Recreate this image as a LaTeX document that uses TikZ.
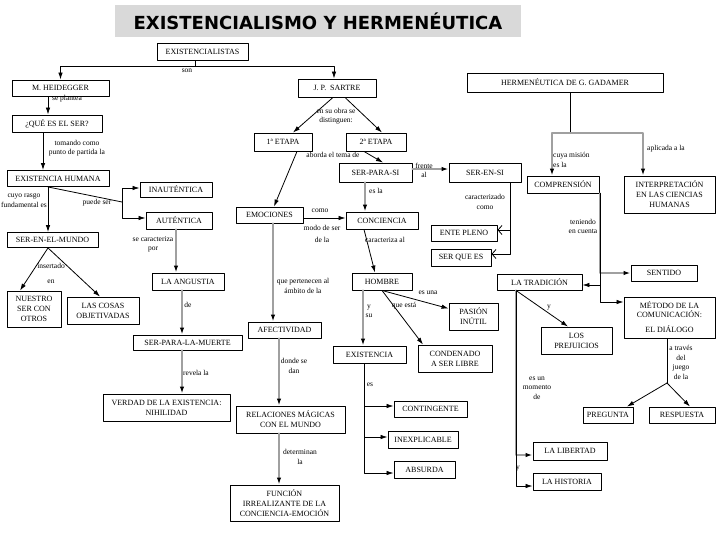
\documentclass[tikz,border=0pt]{standalone}
\usepackage{fontspec}
\setmainfont{Liberation Serif}
\newfontfamily\titulofont{DejaVu Sans}
\usetikzlibrary{arrows.meta}

\definecolor{titulogris}{RGB}{217,217,217}
\definecolor{lineagris}{RGB}{160,160,160}

\tikzset{
  caja/.style={draw, line width=0.9pt, align=center, inner sep=1pt,
    font=\fontsize{8}{10}\selectfont},
  tam/.style 2 args={minimum width=#1pt, minimum height=#2pt},
  rotulo/.style={align=center, inner sep=0pt, font=\fontsize{7.5}{9.5}\selectfont},
  flecha/.style={line width=0.8pt, -{Latex[length=7pt,width=4.5pt]}},
  gflecha/.style={lineagris, line width=2pt, -{Latex[length=7pt,width=4.5pt,color=black]}},
  abierta/.style={line width=0.8pt, -{Straight Barb[length=4pt,width=9pt]}},
}

\begin{document}
\begin{tikzpicture}[x=1pt,y=-1pt,line cap=round,line join=round]
    \useasboundingbox (0,0) rectangle (728,546);

    % Titulo
    \node[fill=titulogris, tam={406}{32}, inner sep=0pt,
      font=\titulofont\bfseries\fontsize{18}{20}\selectfont] (titulo) at (318,21)
      {EXISTENCIALISMO Y HERMENÉUTICA};

    % Cajas
    \node[caja,tam={91}{17}] (exist) at (202.5,51.5) {EXISTENCIALISTAS};
    \node[caja,tam={97}{16}] (heid) at (60.5,88) {M. HEIDEGGER};
    \node[caja,tam={90}{17}] (quees) at (57,123.5) {¿QUÉ ES EL SER?};
    \node[caja,tam={102}{16}] (exhum) at (58,178.5) {EXISTENCIA HUMANA};
    \node[caja,tam={91}{15}] (mundo) at (52.5,240) {SER-EN-EL-MUNDO};
    \node[caja,tam={72}{15}] (inaut) at (176,189.5) {INAUTÉNTICA};
    \node[caja,tam={66}{17}] (aut) at (179,220.5) {AUTÉNTICA};
    \node[caja,tam={54}{36}] (nuestro) at (34,309) {NUESTRO\\SER CON\\OTROS};
    \node[caja,tam={72}{27}] (cosas) at (103,310.5) {LAS COSAS\\OBJETIVADAS};
    \node[caja,tam={72}{17}] (angustia) at (188,281.5) {LA ANGUSTIA};
    \node[caja,tam={109}{15}] (muerte) at (187.5,342.5) {SER-PARA-LA-MUERTE};
    \node[caja,tam={127}{27}] (verdad) at (166.5,407.5) {VERDAD DE LA EXISTENCIA:\\NIHILIDAD};

    \node[caja,tam={78}{18}] (sartre) at (337,88) {J. P.~~SARTRE};
    \node[caja,tam={58}{18}] (etapa1) at (283,142) {1ª ETAPA};
    \node[caja,tam={60}{18}] (etapa2) at (376,142) {2ª ETAPA};
    \node[caja,tam={67}{16}] (emoc) at (269.5,215) {EMOCIONES};
    \node[caja,tam={73}{19}] (parasi) at (375.5,172.5) {SER-PARA-SI};
    \node[caja,tam={72}{19}] (ensi) at (485,172.5) {SER-EN-SI};
    \node[caja,tam={72}{17}] (conc) at (382,220.5) {CONCIENCIA};
    \node[caja,tam={66}{16}] (ente) at (464,233) {ENTE PLENO};
    \node[caja,tam={60}{17}] (serque) at (461,257.5) {SER QUE ES};
    \node[caja,tam={73}{16}] (afect) at (284.5,330) {AFECTIVIDAD};
    \node[caja,tam={60}{17}] (hombre) at (382,281.5) {HOMBRE};
    \node[caja,tam={49}{27}] (pasion) at (473.5,316.5) {PASIÓN\\INÚTIL};
    \node[caja,tam={74}{27}] (conden) at (455,358.5) {CONDENADO\\A SER LIBRE};
    \node[caja,tam={73}{17}] (existencia) at (369.5,354.5) {EXISTENCIA};
    \node[caja,tam={73}{16}] (conting) at (430.5,409) {CONTINGENTE};
    \node[caja,tam={70}{17}] (inexpl) at (423,439.5) {INEXPLICABLE};
    \node[caja,tam={61}{17}] (absurda) at (424.5,469.5) {ABSURDA};
    \node[caja,tam={109}{27}] (relac) at (290.5,419.5) {RELACIONES MÁGICAS\\CON EL MUNDO};
    \node[caja,tam={109}{36}] (funcion) at (284.5,503)
      {FUNCIÓN\\IRREALIZANTE DE LA\\CONCIENCIA-EMOCIÓN};

    \node[caja,tam={196}{19}] (gadamer) at (565,82.5) {HERMENÉUTICA DE G. GADAMER};
    \node[caja,tam={72}{17}] (compr) at (563,184.5) {COMPRENSIÓN};
    \node[caja,tam={91}{37}] (interp) at (669.5,194.5)
      {INTERPRETACIÓN\\EN LAS CIENCIAS\\HUMANAS};
    \node[caja,tam={66}{16}] (sentido) at (664,273) {SENTIDO};
    \node[caja,tam={85}{16}] (tradic) at (539.5,282) {LA TRADICIÓN};
    \node[caja,tam={91}{41},font=\fontsize{8}{9}\selectfont] (metodo) at (669.5,317.5)
      {MÉTODO DE LA\\COMUNICACIÓN:\\[6pt]EL DIÁLOGO};
    \node[caja,tam={71}{27}] (prejuic) at (576.5,340.5) {LOS\\PREJUICIOS};
    \node[caja,tam={50}{16}] (pregunta) at (608,415) {PREGUNTA};
    \node[caja,tam={66}{16}] (respuesta) at (682,415) {RESPUESTA};
    \node[caja,tam={74}{18}] (libertad) at (570,451) {LA LIBERTAD};
    \node[caja,tam={68}{17}] (historia) at (567,481.5) {LA HISTORIA};

    % Puntos de ramificacion
    \coordinate (son) at (195,66);
    \coordinate (puede) at (122,202);
    \coordinate (gadram) at (570,133);
    \coordinate (juego) at (667,383);

    % Conectores: Heidegger
    \draw[line width=0.8pt] ([xshift=-7.5pt]exist.south) -- (son);
    \draw[flecha] (son) -| (heid.north);
    \draw[flecha] (son) -| ([xshift=-3pt]sartre.north);
    \draw[flecha] ([xshift=-12.5pt]heid.south) -- ([xshift=-9pt]quees.north);
    \draw[flecha] ([xshift=-14pt]quees.south) -- ([xshift=-15pt]exhum.north);
    \draw[flecha] ([xshift=-10pt]exhum.south) -- ([xshift=-4.5pt]mundo.north);
    \draw[line width=0.8pt] ([xshift=-10pt]exhum.south) -- (puede);
    \draw[flecha] (puede) |- ([yshift=1.5pt]inaut.west);
    \draw[flecha] (puede) |- ([yshift=2.5pt]aut.west);
    \draw[flecha] ([xshift=-4.5pt]mundo.south) -- ([xshift=-14pt]nuestro.north);
    \draw[flecha] ([xshift=-4.5pt]mundo.south) -- ([xshift=-3pt]cosas.north);
    \draw[gflecha] ([xshift=-3pt]aut.south) -- ([xshift=-12pt]angustia.north);
    \draw[gflecha] ([xshift=-6pt]angustia.south) -- ([xshift=-5.5pt]muerte.north);
    \draw[gflecha] ([xshift=-5.5pt]muerte.south) -- ([xshift=15.5pt]verdad.north);

    % Conectores: Sartre
    \draw[flecha] ([xshift=-4pt]sartre.south) -- ([xshift=10pt]etapa1.north);
    \draw[flecha] ([xshift=8pt]sartre.south) -- ([xshift=6pt]etapa2.north);
    \draw[flecha] ([xshift=14pt]etapa1.south) -- ([xshift=4.5pt]emoc.north);
    \draw[flecha] ([xshift=-12pt]etapa2.south) -- ([xshift=7.5pt]parasi.north);
    \draw[gflecha] ([yshift=3.5pt]parasi.east) -- ([yshift=3.5pt]ensi.west);
    \draw[abierta] ([xshift=25pt]ensi.south) |- ([yshift=3pt]ente.east);
    \draw[abierta] ([xshift=25pt]ensi.south) |- ([yshift=3.5pt]serque.east);
    \draw[gflecha] ([xshift=-10.5pt]parasi.south) -- ([xshift=-17pt]conc.north);
    \draw[flecha] ([yshift=-3pt]emoc.east) -- ([yshift=2.5pt]conc.west);
    \draw[flecha] ([xshift=-18pt]conc.south) -- ([xshift=-7pt]hombre.north);
    \draw[gflecha] ([xshift=3.5pt]emoc.south) -- ([xshift=-11.5pt]afect.north);
    \draw[flecha] (hombre.south) -- ([yshift=8pt]pasion.west);
    \draw[flecha] (hombre.south) -- ([xshift=-32pt]conden.north);
    \draw[gflecha] ([xshift=-19pt]hombre.south) -- ([xshift=-6.5pt]existencia.north);
    \draw[flecha] ([xshift=-5.5pt]existencia.south) |- ([yshift=3pt]conting.west);
    \draw[flecha] ([xshift=-5.5pt]existencia.south) |- ([yshift=2.5pt]inexpl.west);
    \draw[flecha] ([xshift=-5.5pt]existencia.south) |- ([yshift=-3.5pt]absurda.west);
    \draw[gflecha] ([xshift=-5.5pt]afect.south) -- ([xshift=-11.5pt]relac.north);
    \draw[gflecha] ([xshift=-11.5pt]relac.south) -- ([xshift=-5.5pt]funcion.north);

    % Conectores: Gadamer
    \draw[line width=0.8pt] ([xshift=5pt]gadamer.south) -- (gadram);
    \draw[gflecha] (gadram) -| ([xshift=-11pt]compr.north);
    \draw[gflecha] (gadram) -| ([xshift=-26.5pt]interp.north);
    \draw[gflecha] ([xshift=37pt]compr.south) |- (sentido.west);
    \draw[flecha] ([xshift=37pt]compr.south) |- ([yshift=15.5pt]metodo.west);
    \draw[flecha] ([xshift=37pt]compr.south) |- ([yshift=-3pt]tradic.east);
    \draw[line width=0.8pt] ([xshift=-2.5pt]metodo.south) -- (juego);
    \draw[flecha] (juego) -- ([xshift=19pt]pregunta.north);
    \draw[flecha] (juego) -- ([xshift=8pt]respuesta.north);
    \draw[flecha] ([xshift=-23.5pt]tradic.south) -- ([xshift=-8.5pt]prejuic.north);
    \draw[gflecha] ([xshift=-23.5pt]tradic.south) |- ([yshift=-4pt]libertad.west);
    \draw[flecha] ([xshift=-23.5pt]tradic.south) |- ([yshift=-4.5pt]historia.west);

    % Rotulos
    \node[rotulo] (rson) at (187,71) {son};
    \node[rotulo] (rplantea) at (67,99) {se plantea};
    \node[rotulo] (rtomando) at (77,148) {tomando como\\punto de partida la};
    \node[rotulo] (rrasgo) at (24,200.5) {cuyo rasgo\\fundamental es};
    \node[rotulo] (rpuede) at (97,203) {puede ser};
    \node[rotulo] (rinsert) at (51,273.5) {insertado\\[5.5pt]en};
    \node[rotulo] (rcaract) at (153,244.5) {se caracteriza\\por};
    \node[rotulo] (rde) at (188,305) {de};
    \node[rotulo] (rrevela) at (196,373) {revela la};
    \node[rotulo] (robra) at (336,116) {en su obra se\\distinguen:};
    \node[rotulo] (raborda) at (333,155) {aborda el tema de};
    \node[rotulo] (rfrente) at (424,170.5) {frente\\al};
    \node[rotulo] (resla) at (376,191) {es la};
    \node[rotulo] (rcaractz) at (485,202) {caracterizado\\como};
    \node[rotulo] (rcomo) at (320,211) {como};
    \node[rotulo] (rmodo) at (322,234) {modo de ser\\[3pt]de la};
    \node[rotulo] (rcaral) at (385,240) {caracteriza al};
    \node[rotulo] (rpertenecen) at (303,286) {que pertenecen al\\ámbito de la};
    \node[rotulo] (resuna) at (428,293) {es una};
    \node[rotulo] (resta) at (404,306) {que está};
    \node[rotulo] (rysu) at (369,311.5) {y\\su};
    \node[rotulo] (res) at (370,385) {es};
    \node[rotulo] (rdonde) at (294,366) {donde se\\dan};
    \node[rotulo] (rdetermin) at (300,457) {determinan\\la};
    \node[rotulo,anchor=west,align=left] (rmision) at (553,160) {cuya misión\\es la};
    \node[rotulo,anchor=west] (raplicada) at (647,149) {aplicada a la};
    \node[rotulo] (rteniendo) at (583,226.5) {teniendo\\en cuenta};
    \node[rotulo] (ryprej) at (549,308) {y};
    \node[rotulo] (rtraves) at (681,362.5) {a través\\del\\juego\\de la};
    \node[rotulo] (rmomento) at (537,388) {es un\\momento\\de};
    \node[rotulo] (ryhist) at (518,469) {y};
\end{tikzpicture}
\end{document}
